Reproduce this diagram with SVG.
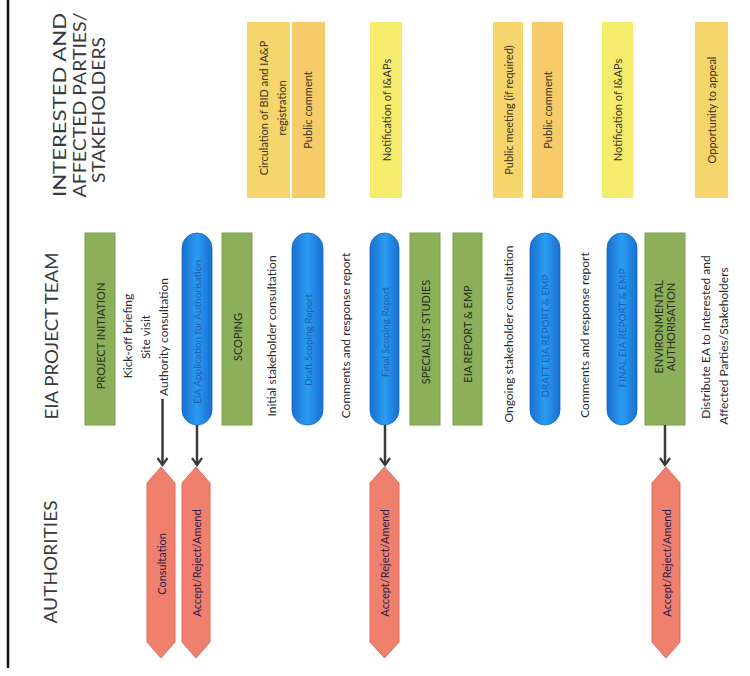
<svg xmlns="http://www.w3.org/2000/svg" width="750" height="676" viewBox="0 0 750 676">
<defs>
<style>
text{font-family:"Lato","Liberation Sans",sans-serif;text-anchor:middle;dominant-baseline:central}
.hdr{font-size:18px;fill:#3a3a3a}
.lbl{font-size:12px;fill:#2b2b2b}
.gtx{font-size:11px;fill:#2a2a1e}
.btx{font-size:10px;fill:#1d5fae}
.rtx{font-size:11px;fill:#2b1a4a}
.ytx{font-size:11px;fill:#3a3320}
.green{fill:#8cb05a;stroke:#7e9f4f;stroke-width:1}
.blue{fill:url(#bg);stroke:#1565c0;stroke-width:0.8}
.red{fill:#f0806e;stroke:#e06a5a;stroke-width:1;stroke-linejoin:round}
.ygold{fill:#f6d66c}
.yorange{fill:#f6cb6a}
.ylemon{fill:#f5ec6e}
.conn{stroke:#3a3a3a;stroke-width:2.5;fill:none;marker-end:url(#ah)}
</style>
<linearGradient id="bg" x1="0" y1="0" x2="1" y2="0">
<stop offset="0" stop-color="#1a6fd0"/>
<stop offset="0.5" stop-color="#2a9cf2"/>
<stop offset="1" stop-color="#1a6fd0"/>
</linearGradient>
<marker id="ah" markerWidth="12" markerHeight="12" refX="10" refY="6" orient="auto" markerUnits="userSpaceOnUse" viewBox="0 0 12 12">
<path d="M3,1 L10,6 L3,11" fill="none" stroke="#3a3a3a" stroke-width="2.2"/>
</marker>
</defs>
<rect width="750" height="676" fill="#ffffff"/>
<line x1="8" y1="0" x2="8" y2="668" stroke="#111" stroke-width="2.5"/>

<g id="headers">
<text class="hdr" transform="translate(59,105) rotate(-90)" textLength="184" lengthAdjust="spacingAndGlyphs">INTERESTED AND</text>
<text class="hdr" transform="translate(79,105) rotate(-90)" textLength="185" lengthAdjust="spacingAndGlyphs">AFFECTED PARTIES/</text>
<text class="hdr" transform="translate(98,110) rotate(-90)" textLength="146" lengthAdjust="spacingAndGlyphs">STAKEHOLDERS</text>
<text class="hdr" transform="translate(51,336) rotate(-90)" textLength="167" lengthAdjust="spacingAndGlyphs">EIA PROJECT TEAM</text>
<text class="hdr" transform="translate(50,562) rotate(-90)" textLength="123" lengthAdjust="spacingAndGlyphs">AUTHORITIES</text>
</g>

<g id="n-project-initiation">
<rect class="green" x="85" y="233" width="30" height="192"/>
<text class="gtx" transform="translate(100,336) rotate(-90)">PROJECT INITIATION</text>
</g>
<g id="n-initiation-notes">
<text class="lbl" transform="translate(127,336) rotate(-90)">Kick-off briefing</text>
<text class="lbl" transform="translate(145,337) rotate(-90)">Site visit</text>
<text class="lbl" transform="translate(163.5,337) rotate(-90)">Authority consultation</text>
</g>
<g id="n-eia-application">
<rect class="blue" x="182" y="233" width="30" height="192" rx="15" ry="15"/>
<text class="btx" transform="translate(197,332) rotate(-90)">EIA Application for Authorisation</text>
</g>
<g id="n-scoping">
<rect class="green" x="222" y="233" width="30" height="192"/>
<text class="gtx" transform="translate(237,337) rotate(-90)">SCOPING</text>
</g>
<g id="n-initial-consultation">
<text class="lbl" transform="translate(271.5,336) rotate(-90)">Initial stakeholder consultation</text>
</g>
<g id="n-draft-scoping">
<rect class="blue" x="292" y="233" width="31" height="192" rx="15" ry="15"/>
<text class="btx" transform="translate(307.5,340) rotate(-90)">Draft Scoping Report</text>
</g>
<g id="n-comments-1">
<text class="lbl" transform="translate(345,335.5) rotate(-90)">Comments and response report</text>
</g>
<g id="n-final-scoping">
<rect class="blue" x="370" y="233" width="29" height="192" rx="14.5" ry="15"/>
<text class="btx" transform="translate(384.5,332) rotate(-90)">Final Scoping Report</text>
</g>
<g id="n-specialist-studies">
<rect class="green" x="410" y="233" width="30" height="192"/>
<text class="gtx" transform="translate(425,332) rotate(-90)">SPECIALIST STUDIES</text>
</g>
<g id="n-eia-report">
<rect class="green" x="453" y="233" width="29" height="192"/>
<text class="gtx" transform="translate(467.5,334) rotate(-90)">EIA REPORT &amp; EMP</text>
</g>
<g id="n-ongoing-consultation">
<text class="lbl" transform="translate(508.5,334) rotate(-90)">Ongoing stakeholder consultation</text>
</g>
<g id="n-draft-eia">
<rect class="blue" x="530" y="233" width="30" height="192" rx="15" ry="15"/>
<text class="btx" transform="translate(545,336) rotate(-90)">DRAFT EIA REPORT &amp; EMP</text>
</g>
<g id="n-comments-2">
<text class="lbl" transform="translate(584.5,335) rotate(-90)">Comments and response report</text>
</g>
<g id="n-final-eia">
<rect class="blue" x="607" y="233" width="30" height="192" rx="15" ry="15"/>
<text class="btx" transform="translate(622,328) rotate(-90)">FINAL EIA REPORT &amp; EMP</text>
</g>
<g id="n-environmental-authorisation">
<rect class="green" x="645" y="233" width="40" height="192"/>
<text class="gtx" transform="translate(658,327) rotate(-90)">ENVIRONMENTAL</text>
<text class="gtx" transform="translate(670,327) rotate(-90)">AUTHORISATION</text>
</g>
<g id="n-distribute">
<text class="lbl" transform="translate(705.5,337) rotate(-90)">Distribute EA to Interested and</text>
<text class="lbl" transform="translate(723.5,346) rotate(-90)">Affected Parties/Stakeholders</text>
</g>

<g id="n-consultation">
<path class="red" d="M161,467 L175,483 L175,642 L161,658 L147,642 L147,483 Z"/>
<text class="rtx" transform="translate(161,564) rotate(-90)">Consultation</text>
</g>
<g id="n-accept-1">
<path class="red" d="M196,467 L210,483 L210,642 L196,658 L182,642 L182,483 Z"/>
<text class="rtx" transform="translate(196,563) rotate(-90)">Accept/Reject/Amend</text>
</g>
<g id="n-accept-2">
<path class="red" d="M384.5,467 L399,483 L399,642 L384.5,658 L370,642 L370,483 Z"/>
<text class="rtx" transform="translate(384.5,563) rotate(-90)">Accept/Reject/Amend</text>
</g>
<g id="n-accept-3">
<path class="red" d="M666,467 L680,483 L680,642 L666,658 L652,642 L652,483 Z"/>
<text class="rtx" transform="translate(666,563) rotate(-90)">Accept/Reject/Amend</text>
</g>

<g id="n-circulation">
<rect class="ygold" x="247" y="22" width="43" height="176"/>
<text class="ytx" transform="translate(263,108) rotate(-90)">Circulation of BID and IA&amp;P</text>
<text class="ytx" transform="translate(281,108) rotate(-90)">registration</text>
</g>
<g id="n-public-comment-1">
<rect class="yorange" x="292" y="22" width="33" height="176"/>
<text class="ytx" transform="translate(307,110) rotate(-90)">Public comment</text>
</g>
<g id="n-notification-1">
<rect class="ylemon" x="370" y="22" width="32" height="176"/>
<text class="ytx" transform="translate(386,110) rotate(-90)">Notification of I&amp;APs</text>
</g>
<g id="n-public-meeting">
<rect class="ygold" x="493" y="22" width="30" height="176"/>
<text class="ytx" transform="translate(508,110) rotate(-90)">Public meeting (if required)</text>
</g>
<g id="n-public-comment-2">
<rect class="yorange" x="532" y="22" width="31" height="176"/>
<text class="ytx" transform="translate(547,110) rotate(-90)">Public comment</text>
</g>
<g id="n-notification-2">
<rect class="ylemon" x="602" y="22" width="31" height="176"/>
<text class="ytx" transform="translate(617,110) rotate(-90)">Notification of I&amp;APs</text>
</g>
<g id="n-appeal">
<rect class="ygold" x="695" y="22" width="33" height="176"/>
<text class="ytx" transform="translate(711,110) rotate(-90)">Opportunity to appeal</text>
</g>

<g id="connectors">
<line class="conn" x1="162.5" y1="399" x2="162.5" y2="465"/>
<line class="conn" x1="197" y1="425" x2="197" y2="465"/>
<line class="conn" x1="385" y1="425" x2="385" y2="465"/>
<line class="conn" x1="665" y1="425" x2="665" y2="465"/>
</g>
</svg>
